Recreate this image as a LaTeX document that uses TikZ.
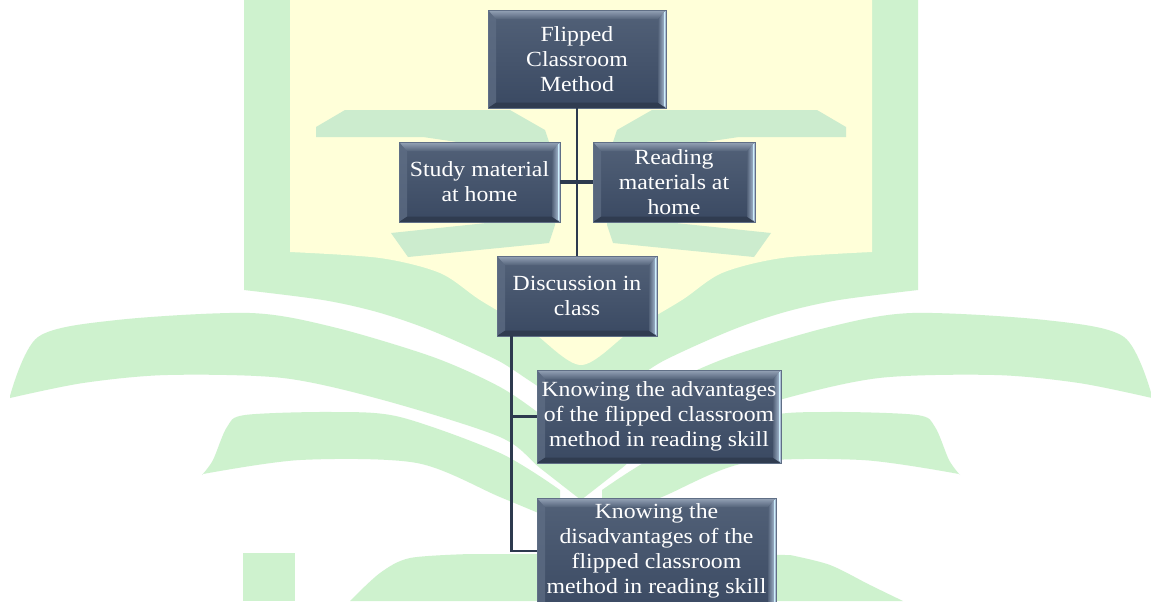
\documentclass[tikz,border=0pt]{standalone}
\usepackage{fontspec}
\setmainfont{Liberation Serif}[FakeStretch=1.1]
\usetikzlibrary{calc}
\definecolor{wmgreen}{RGB}{206,242,206}
\definecolor{wmwing}{RGB}{204,236,206}
\definecolor{wmyellow}{RGB}{255,255,217}
\definecolor{boxtop}{RGB}{82,97,120}
\definecolor{boxbot}{RGB}{58,73,98}
\definecolor{bevtop}{RGB}{150,164,184}
\definecolor{bevright}{RGB}{185,205,228}
\definecolor{bevleft}{RGB}{96,111,134}
\definecolor{bevbot}{RGB}{48,60,80}
\definecolor{conncol}{RGB}{45,58,78}
\tikzset{
  box/.style={rectangle, draw=bevleft, line width=0.5pt, inner sep=0pt,
    top color=boxtop, bottom color=boxbot,
    path picture={
      \coordinate (ppnw) at (path picture bounding box.north west);
      \coordinate (ppne) at (path picture bounding box.north east);
      \coordinate (ppsw) at (path picture bounding box.south west);
      \coordinate (ppse) at (path picture bounding box.south east);
      \shade[top color=bevtop, bottom color=boxtop] (ppnw) -- (ppne) -- ([xshift=-6pt,yshift=-7pt]ppne) -- ([xshift=6pt,yshift=-7pt]ppnw) -- cycle;
      \fill[bevleft, opacity=0.7] (ppnw) -- ([xshift=6pt,yshift=-7pt]ppnw) -- ([xshift=6pt,yshift=4pt]ppsw) -- (ppsw) -- cycle;
      \fill[bevbot] (ppsw) -- ([xshift=6pt,yshift=4pt]ppsw) -- ([xshift=-6pt,yshift=4pt]ppse) -- (ppse) -- cycle;
      \shade[left color=boxtop, right color=bevright] (ppne) -- ([xshift=-6pt,yshift=-7pt]ppne) -- ([xshift=-6pt,yshift=4pt]ppse) -- (ppse) -- cycle;
      \draw[white!80!cyan, line width=1pt] ([xshift=-1.2pt,yshift=-1.5pt]ppne) -- ([xshift=-1.2pt,yshift=1.5pt]ppse);
    }},
  boxtext/.style={text=white, align=center, font=\fontsize{16.2}{18.8}\selectfont},
  conn/.style={draw=conncol, line width=2.2pt},
  connthick/.style={draw=conncol, line width=3pt}
}
\begin{document}
\begin{tikzpicture}[x=0.75pt,y=-0.75pt]
\useasboundingbox (0,0) rectangle (1151,601);
\clip (0,0) rectangle (1151,601);
\fill[white] (0,0) rectangle (1151,601);
% watermark: shield
\fill[wmgreen] (244,0) -- plot[smooth, tension=0.5] coordinates {(244,290) (323,300) (377,312) (430,330) (497,360) (581,405) (665,360) (732,330) (785,312) (839,300) (918,290)} -- (918,0) -- cycle;
\fill[wmyellow] (290,0) -- plot[smooth, tension=0.5] coordinates {(290,252) (380,258) (440,273) (480,300) (530,330) (581,365) (632,330) (682,300) (722,273) (782,258) (872,252)} -- (872,0) -- cycle;
% wings
\fill[wmwing] (316,127) -- (345,110) -- (510,110) -- (545,130) -- (555,160) -- (555,225) -- (549,243) -- (408,257) -- (391,233) -- (515,220) -- (520,150) -- (491,147) -- (423,137) -- (316,137) -- cycle;
\fill[wmwing] (846,127) -- (817,110) -- (652,110) -- (617,130) -- (607,160) -- (607,225) -- (613,243) -- (754,257) -- (771,233) -- (647,220) -- (642,150) -- (671,147) -- (739,137) -- (846,137) -- cycle;
% big arcs
\fill[wmgreen] plot[smooth] coordinates {(10,396) (38,337) (117,320) (250,313) (333,327) (433,357) (500,387) (545,418) (581,450)} -- plot[smooth] coordinates {(581,500) (540,468) (500,437) (383,400) (283,378) (167,375) (83,383) (10,398)} -- cycle;
\fill[wmgreen] plot[smooth] coordinates {(1152,396) (1124,337) (1045,320) (912,313) (829,327) (729,357) (662,387) (617,418) (581,450)} -- plot[smooth] coordinates {(581,500) (622,468) (662,437) (779,400) (879,378) (995,375) (1079,383) (1152,398)} -- cycle;
\fill[wmgreen] plot[smooth] coordinates {(202,475) (213,460) (227,427) (245,415) (333,412) (400,417) (500,453) (560,490)} -- plot[smooth] coordinates {(560,522) (500,497) (417,463) (300,460) (203,474)} -- cycle;
\fill[wmgreen] plot[smooth] coordinates {(960,475) (949,460) (935,427) (917,415) (829,412) (762,417) (662,453) (602,490)} -- plot[smooth] coordinates {(602,522) (662,497) (745,463) (862,460) (959,474)} -- cycle;
% bottom shapes
\fill[wmgreen] (243,553) rectangle (295,601);
\fill[wmgreen] plot[smooth] coordinates {(350,601) (380,573) (410,558) (470,554)} -- (790,555) -- plot[smooth] coordinates {(790,555) (830,565) (870,585) (903,601)} -- cycle;
% diagram
\node[box, minimum width=133.5pt, minimum height=73.5pt] (flip) at (577,59) {};
\node[boxtext] (flipt) at (flip.center) {Flipped\\Classroom\\Method};
\node[box, minimum width=120.75pt, minimum height=60pt] (study) at (479.5,182) {};
\node[boxtext] (studyt) at (study.center) {Study material\\at home};
\node[box, minimum width=121.5pt, minimum height=60pt] (read) at (674,182) {};
\node[boxtext] (readt) at (read.center) {Reading\\materials at\\home};
\node[box, minimum width=120pt, minimum height=60pt] (disc) at (577,296) {};
\node[boxtext] (disct) at (disc.center) {Discussion in\\class};
\node[box, minimum width=183pt, minimum height=69.75pt] (adv) at (659,416.5) {};
\node[boxtext] (advt) at (adv.center) {Knowing the advantages\\of the flipped classroom\\method in reading skill};
\node[box, minimum width=179.25pt, minimum height=88.5pt] (dis) at (656.5,557) {};
\node[boxtext] (dist) at (656.5,551) {Knowing the\\disadvantages of the\\flipped classroom\\method in reading skill};
% connectors
\draw[conn] (flip.south) -- (disc.north);
\draw[connthick] (study.east) -- (read.west);
\coordinate (b0) at ($(disc.south west)+(15,0)$);
\draw[conn] (b0) |- (adv.west);
\draw[conn] (b0) |- (dis.west |- dist.center);
\end{tikzpicture}
\end{document}
